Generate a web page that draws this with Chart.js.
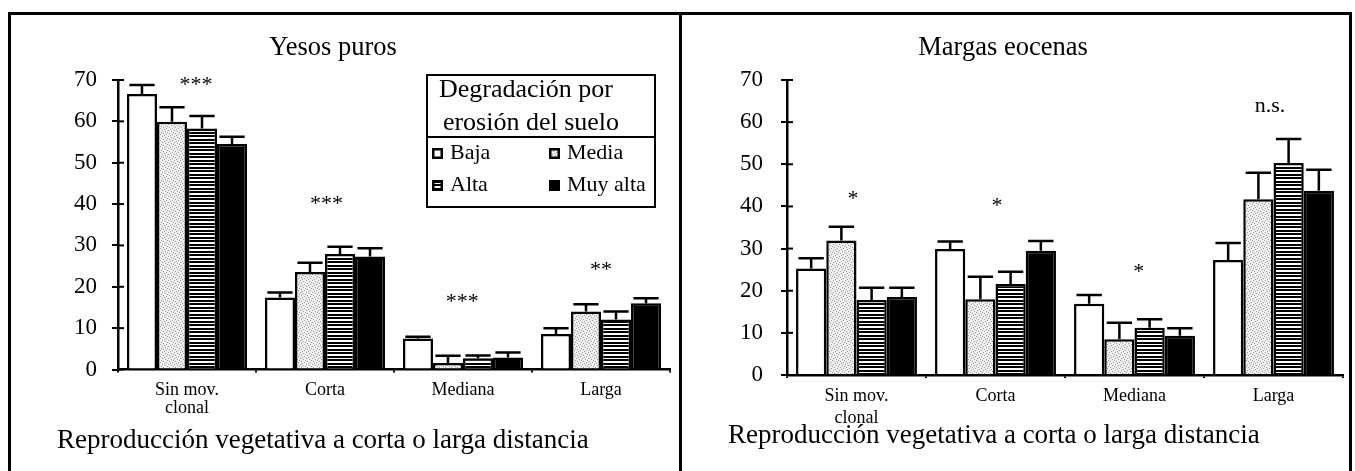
<!DOCTYPE html>
<html><head><meta charset="utf-8">
<script src="https://cdn.jsdelivr.net/npm/chart.js@4.4.1/dist/chart.umd.min.js"></script>
<style>
html,body{margin:0;padding:0;background:#fff;}
body{width:1355px;height:471px;position:relative;overflow:hidden;font-family:"Liberation Serif",serif;}
#frame{position:absolute;left:8px;top:12px;width:1344px;height:470px;border-top:3px solid #000;border-left:3px solid #000;border-right:3px solid #000;box-sizing:border-box;}
#divider{position:absolute;left:679px;top:12px;width:3px;height:470px;background:#000;}
canvas{position:absolute;top:16px;}
#c1{left:12px;}
#c2{left:683px;}
</style></head>
<body>
<div id="frame"></div><div id="divider"></div>
<canvas id="c1" width="666" height="455"></canvas>
<canvas id="c2" width="667" height="455"></canvas>
<script>
// ---------- data ----------
const categories = [['Sin mov.', 'clonal'], 'Corta', 'Mediana', 'Larga'];
const seriesNames = ['Baja', 'Media', 'Alta', 'Muy alta'];
const yTickValues = [0, 10, 20, 30, 40, 50, 60, 70];
const legendTitle = ['Degradación por', 'erosión del suelo'];
const axisTitle = 'Reproducción vegetativa a corta o larga distancia';

// Yesos puros
const yesosTitle = 'Yesos puros';
const yesosBaja    = [66.6, 17.4, 7.5, 8.6];
const yesosMedia   = [59.9, 23.6, 1.6, 14.0];
const yesosAlta    = [58.3, 27.9, 2.7, 12.1];
const yesosMuyAlta = [54.5, 27.3, 2.9, 16.0];
const yesosBajaErr    = [68.8, 18.6, 7.9, 10.0];
const yesosMediaErr   = [63.4, 25.8, 3.3, 15.8];
const yesosAltaErr    = [61.3, 29.7, 3.4, 14.0];
const yesosMuyAltaErr = [56.3, 29.3, 4.1, 17.2];
const yesosSig  = ['***', '***', '***', '**'];
const yesosSigY = [67.3, 38.5, 14.8, 22.5];
const yesosSigDx = [0.065, 0.01, -0.005, 0];

// Margas eocenas
const margasTitle = 'Margas eocenas';
const margasBaja    = [25.3, 29.9, 16.9, 27.3];
const margasMedia   = [31.9, 18.0, 8.5, 41.7];
const margasAlta    = [17.8, 21.6, 11.2, 50.3];
const margasMuyAlta = [18.5, 29.5, 9.3, 43.7];
const margasBajaErr    = [27.7, 31.7, 19.0, 31.3];
const margasMediaErr   = [35.2, 23.3, 12.4, 48.0];
const margasAltaErr    = [20.7, 24.5, 13.2, 56.0];
const margasMuyAltaErr = [20.7, 31.8, 11.1, 48.7];
const margasSig  = ['*', '*', '*', 'n.s.'];
const margasSigY = [40.4, 38.6, 22.9, 62.4];
const margasSigDx = [-0.025, 0.01, 0.03, -0.025];

// ---------- fills ----------
function stipple() {
  const c = document.createElement('canvas'); c.width = 6; c.height = 6;
  const g = c.getContext('2d');
  g.fillStyle = '#efefef'; g.fillRect(0, 0, 6, 6);
  g.fillStyle = '#999999';
  [[0,0],[3,1],[1,3],[4,4],[5,2],[2,5]].forEach(p => g.fillRect(p[0], p[1], 1, 1));
  return g.createPattern(c, 'repeat');
}
function stripes() {
  const c = document.createElement('canvas'); c.width = 4; c.height = 7;
  const g = c.getContext('2d');
  g.fillStyle = '#fff'; g.fillRect(0, 0, 4, 7);
  g.fillStyle = '#000'; g.fillRect(0, 0, 4, 2); g.fillRect(0, 4, 4, 2);
  return g.createPattern(c, 'repeat');
}
const fills = ['#ffffff', stipple(), stripes(), '#000000'];
const FONT = '"Liberation Serif", "Times New Roman", serif';

// ---------- decoration plugin ----------
const decor = {
  id: 'decor',
  afterDatasetsDraw(chart) {
    const cfg = chart.options.plugins.decor;
    const ctx = chart.ctx, y = chart.scales.y;
    ctx.save();
    ctx.strokeStyle = '#000'; ctx.lineWidth = 2.5;
    chart.data.datasets.forEach((ds, i) => {
      const meta = chart.getDatasetMeta(i);
      meta.data.forEach((bar, j) => {
        const top = y.getPixelForValue(cfg.errors[i][j]);
        const half = bar.width * 0.42;
        ctx.beginPath();
        ctx.moveTo(bar.x, bar.y); ctx.lineTo(bar.x, top);
        ctx.moveTo(bar.x - half, top); ctx.lineTo(bar.x + half, top);
        ctx.stroke();
      });
    });
    ctx.restore();
  },
  afterDraw(chart) {
    const cfg = chart.options.plugins.decor;
    const ctx = chart.ctx, x = chart.scales.x, y = chart.scales.y;
    const area = chart.chartArea;
    ctx.save();
    // inner part of y ticks
    ctx.strokeStyle = '#000'; ctx.lineWidth = 2;
    yTickValues.forEach(v => {
      const py = y.getPixelForValue(v);
      ctx.beginPath(); ctx.moveTo(area.left, py); ctx.lineTo(area.left + 6, py); ctx.stroke();
    });
    ctx.fillStyle = '#000';
    ctx.textBaseline = 'alphabetic';
    // title
    ctx.textAlign = 'center';
    ctx.font = '26.5px ' + FONT;
    ctx.fillText(cfg.title, cfg.titleX, 39);
    // significance labels
    ctx.font = '22px ' + FONT;
    const cw = (area.right - area.left) / categories.length;
    cfg.sig.forEach((t, j) => {
      ctx.fillText(t, x.getPixelForValue(j) + cfg.sigDx[j] * cw, y.getPixelForValue(cfg.sigY[j]));
    });
    // axis title
    ctx.textAlign = 'left';
    ctx.font = '27px ' + FONT;
    ctx.fillText(axisTitle, 45, cfg.axisTitleY);
    // legend
    if (cfg.legend) {
      const L = 415, T = 59, R = 643, B = 191;
      ctx.lineWidth = 2;
      ctx.strokeRect(L, T, R - L, B - T);
      ctx.beginPath(); ctx.moveTo(L, 121); ctx.lineTo(R, 121); ctx.stroke();
      ctx.textAlign = 'center';
      ctx.font = '26px ' + FONT;
      ctx.fillText(legendTitle[0], 514, 81);
      ctx.fillText(legendTitle[1], 519, 114);
      ctx.textAlign = 'left';
      ctx.font = '22px ' + FONT;
      const pos = [[420, 132], [537, 132], [420, 164], [537, 164]];
      seriesNames.forEach((n, i) => {
        const [px, py] = pos[i];
        ctx.fillStyle = fills[i];
        ctx.fillRect(px, py, 11, 11);
        ctx.strokeStyle = '#000'; ctx.lineWidth = 2.5;
        ctx.strokeRect(px + 1.25, py + 1.25, 8.5, 8.5);
        ctx.fillStyle = '#000';
        ctx.fillText(n, px + 18, py + 11);
      });
    }
    ctx.restore();
  }
};

function makeChart(id, c) {
  return new Chart(document.getElementById(id), {
    type: 'bar',
    data: {
      labels: categories,
      datasets: seriesNames.map((n, i) => ({
        label: n, data: c.values[i], backgroundColor: fills[i],
        borderColor: '#000', borderWidth: 2.5, borderSkipped: 'bottom',
        categoryPercentage: 0.87, barPercentage: 1
      }))
    },
    options: {
      responsive: false, animation: false, events: [],
      layout: { padding: { left: 0, top: 64, right: c.padRight, bottom: c.padBottom } },
      plugins: {
        legend: { display: false }, title: { display: false }, tooltip: { enabled: false },
        decor: c
      },
      scales: {
        x: {
          grid: { display: true, drawOnChartArea: false, offset: true, tickLength: 3, color: '#000', lineWidth: 2 },
          border: { display: true, color: '#000', width: 2.5 },
          ticks: { color: '#000', font: { family: FONT, size: 18, lineHeight: c.xLineHeight }, padding: 8, maxRotation: 0, autoSkip: false },
          afterFit: s => { s.height = 60; }
        },
        y: {
          min: yTickValues[0], max: yTickValues[yTickValues.length - 1],
          ticks: { stepSize: 10, color: '#000', font: { family: FONT, size: 23 }, padding: c.yPad },
          grid: { drawOnChartArea: false, tickLength: 6, color: '#000', lineWidth: 2 },
          border: { color: '#000', width: 2.5 },
          afterFit: s => { s.width = c.yAxisW; }
        }
      }
    },
    plugins: [decor]
  });
}

makeChart('c1', {
  values: [yesosBaja, yesosMedia, yesosAlta, yesosMuyAlta],
  errors: [yesosBajaErr, yesosMediaErr, yesosAltaErr, yesosMuyAltaErr],
  sig: yesosSig, sigY: yesosSigY, sigDx: yesosSigDx,
  title: yesosTitle, titleX: 321, axisTitleY: 432, legend: true,
  yAxisW: 106, yPad: 15, padRight: 8, padBottom: 41.5, xLineHeight: 1.03
});
makeChart('c2', {
  values: [margasBaja, margasMedia, margasAlta, margasMuyAlta],
  errors: [margasBajaErr, margasMediaErr, margasAltaErr, margasMuyAltaErr],
  sig: margasSig, sigY: margasSigY, sigDx: margasSigDx,
  title: margasTitle, titleX: 320, axisTitleY: 427, legend: false,
  yAxisW: 104, yPad: 18, padRight: 7, padBottom: 36, xLineHeight: 1.18
});
</script>
</body></html>
